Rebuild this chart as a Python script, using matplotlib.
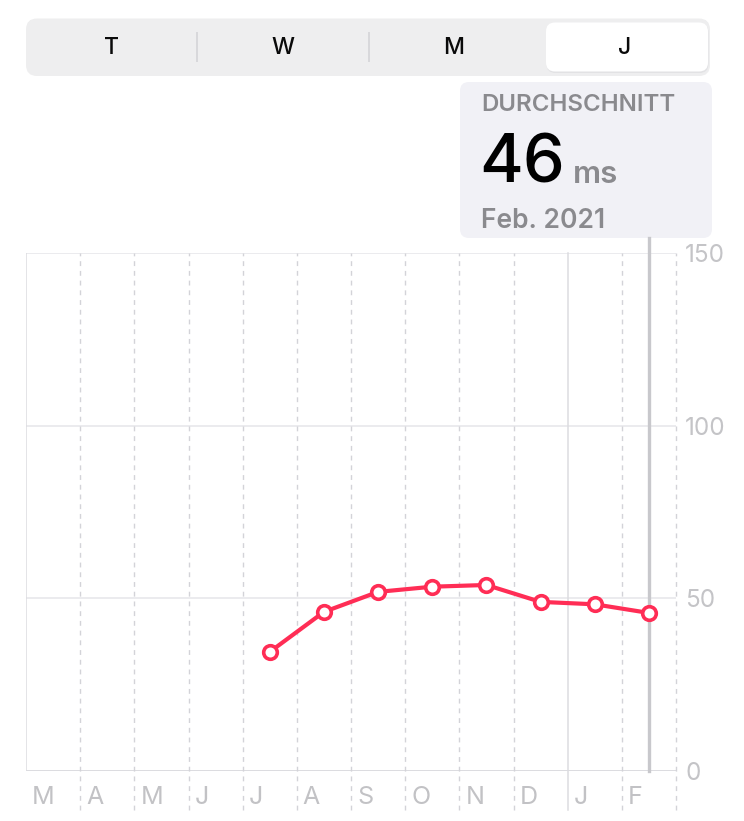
import matplotlib
matplotlib.use("Agg")
import matplotlib.pyplot as plt
from matplotlib.patches import FancyBboxPatch

plt.rcParams['font.family'] = ['Inter', 'DejaVu Sans']

# ---- data ----
month_labels = ['M', 'A', 'M', 'J', 'J', 'A', 'S', 'O', 'N', 'D', 'J', 'F']
data_month_idx = [4, 5, 6, 7, 8, 9, 10, 11]          # Jul .. Feb
hrv_values = [34.5, 46.1, 51.9, 53.4, 53.9, 49.0, 48.3, 45.8]
y_ticks = [0, 50, 100, 150]
segments = ['T', 'W', 'M', 'J']
selected_segment = 3
callout_title = 'DURCHSCHNITT'
callout_value = '46'
callout_unit = 'ms'
callout_date = 'Feb. 2021'

W, H = 744, 821
fig = plt.figure(figsize=(W / 100, H / 100), dpi=100)
fig.patch.set_facecolor('white')

# overlay in pixel coordinates for UI decorations
ov = fig.add_axes([0, 0, 1, 1], zorder=0)
ov.set_xlim(0, W)
ov.set_ylim(H, 0)
ov.axis('off')
ov.patch.set_alpha(0)

# segmented control
ov.add_patch(FancyBboxPatch((26, 18.5), 684, 57.5, boxstyle='round,pad=0,rounding_size=11',
                            fc='#EEEEEF', ec='none'))
ov.add_patch(FancyBboxPatch((546.5, 23.5), 162, 49.5, boxstyle='round,pad=0,rounding_size=9',
                            fc='#E2E2E4', ec='none'))
ov.add_patch(FancyBboxPatch((546, 22.5), 162, 49, boxstyle='round,pad=0,rounding_size=9',
                            fc='white', ec='none'))
seg_w = 684 / 4
for i, s in enumerate(segments):
    cx = 26 + seg_w * (i + 0.5)
    ov.text(cx, 48, s, ha='center', va='center', fontsize=16.5, color='#0A0A0A',
            fontweight=500)
for xsep in (197, 368.5):
    ov.plot([xsep, xsep], [32, 62], color='#D4D4D8', lw=1.2, solid_capstyle='butt')

# callout
ov.add_patch(FancyBboxPatch((460, 82), 252, 156, boxstyle='round,pad=0,rounding_size=9',
                            fc='#F1F1F6', ec='none'))
ov.text(481, 110.7, callout_title, ha='left', va='baseline', fontsize=17.3,
        color='#8A8A8E', fontweight='semibold')
ov.text(479, 182.7, callout_value, ha='left', va='baseline', fontsize=48,
        color='black', fontweight='medium')
ov.text(573, 182.7, callout_unit, ha='left', va='baseline', fontsize=22.5,
        color='#8A8A8E', fontweight='semibold')
ov.text(481, 227.5, callout_date, ha='left', va='baseline', fontsize=19,
        color='#8A8A8E', fontweight='semibold')

# ---- main chart ----
x_left, x_right = 26, 676
y_top, y_bot = 253.3, 771
ax = fig.add_axes([x_left / W, (H - y_bot) / H, (x_right - x_left) / W, (y_bot - y_top) / H],
                  zorder=1)
ax.patch.set_alpha(0)
ax.set_xlim(0, 12)
ax.set_ylim(0, 150)
for sp in ax.spines.values():
    sp.set_visible(False)

# horizontal grid
for yv in y_ticks:
    ax.axhline(yv, color='#DCDCE0' if yv == 0 else '#E6E6EA', lw=1.4 if yv == 0 else 1.1,
               zorder=1)

# vertical grid
below = (y_bot - 810) / (y_bot - y_top)
for i in range(13):
    if i == 0:
        ax.axvline(i, ymin=0, ymax=1, color='#DCDCE0', lw=1.1, zorder=1)
    elif i == 10:
        ax.axvline(i, ymin=below, ymax=1, color='#DCDCE0', lw=1.1, zorder=1, clip_on=False)
    else:
        ax.axvline(i, ymin=below, ymax=1, color='#D3D3D8', lw=1.0, zorder=1,
                   linestyle=(0, (3.5, 3.5)), clip_on=False)

# cursor line at last point
last_x = data_month_idx[-1] + 0.5
ax.axvline(last_x, ymin=0, ymax=(y_bot - 238) / (y_bot - y_top), color='#C8C8CC', lw=2.4,
           zorder=2, clip_on=False)

xs = [m + 0.5 for m in data_month_idx]
ax.plot(xs, hrv_values, color='#FF2D55', lw=3.0, marker='o', ms=9.8, mfc='white',
        mec='#FF2D55', mew=2.6, zorder=5, solid_joinstyle='round')

# y tick labels on the right
ax.yaxis.tick_right()
ax.set_yticks(y_ticks)
ax.set_yticklabels([str(v) for v in y_ticks])
ax.tick_params(axis='y', length=0, pad=6.5, labelsize=17.5, labelcolor='#C4C4C7')
ax.set_xticks([])

# month labels
lbl_y = -(797 - y_bot) / (y_bot - y_top)
for i, m in enumerate(month_labels):
    ax.text(i + 6.0 / 54.17, lbl_y, m, transform=ax.get_xaxis_transform(), ha='left',
            va='center', fontsize=18, color='#C2C2C5', fontweight='normal')

fig.savefig('out.png', dpi=100, facecolor='white')
